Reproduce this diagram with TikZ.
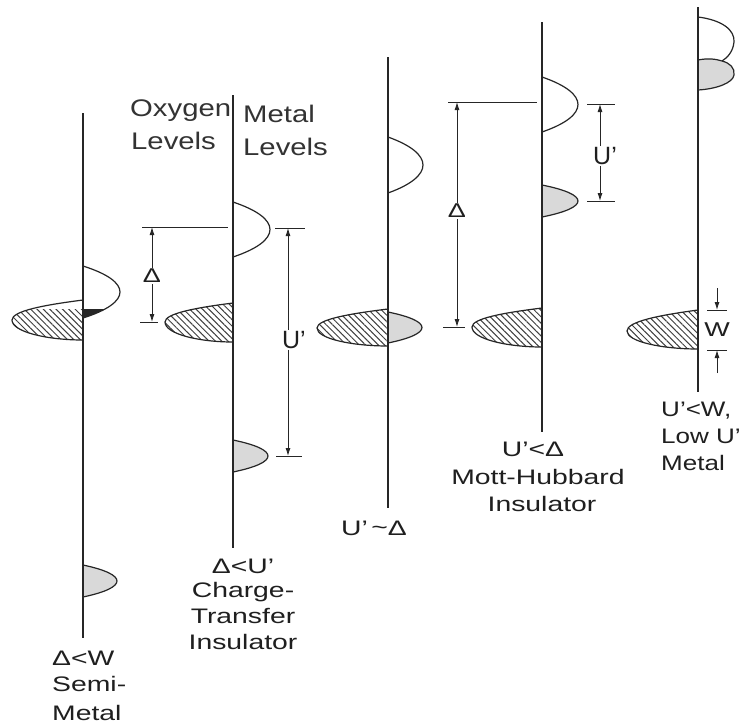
\documentclass[tikz,border=0pt]{standalone}
\usepackage{fontspec}
\setmainfont{Liberation Sans}
\newfontfamily\hdfont{Liberation Sans}[FakeStretch=1.22]
\newfontfamily\lbfont{Liberation Sans}[FakeStretch=1.35]
\newfontfamily\lbfontn{Liberation Sans}[FakeStretch=1.24]
\usetikzlibrary{arrows.meta,patterns.meta}
% right bump: x0, ytop, ybot, xpeak
\newcommand{\rbump}[4]{(#1,#2) .. controls ({#1+1.333*(#4-#1)},{#2+0.3*(#3-#2)}) and ({#1+1.333*(#4-#1)},{#3-0.3*(#3-#2)}) .. (#1,#3)}
% left band: x0, ytop, ybot, xtip, ytip
\newcommand{\lband}[5]{(#1,#2) .. controls ({#1-0.55*(#1-#4)},{#2+0.25*(#5-#2)}) and ({#4},{#5-0.45*(#5-#2)}) .. (#4,#5) .. controls ({#4},{#5+0.6*(#3-#5)}) and ({#1-0.5*(#1-#4)},{#3}) .. (#1,#3) -- cycle}
\begin{document}
\begin{tikzpicture}[x=1pt,y=-1pt,
  axis/.style={line width=1.1pt,draw=black!85},
  band/.style={line width=1.2pt,draw=black!85},
  dotband/.style={band,fill=black!15},
  hatchfill/.style={pattern={Lines[angle=-45,distance=4.5pt,line width=1pt]},pattern color=black!75},
  tickline/.style={line width=0.9pt,draw=black!85},
  dimarr/.style={line width=0.9pt,draw=black!85,-{Latex[length=8pt,width=5pt]}},
  lab/.style={inner sep=0pt,text=black!88,font=\lbfont\fontsize{21}{25}\selectfont},
  labn/.style={inner sep=0pt,text=black!88,font=\lbfontn\fontsize{21}{25}\selectfont},
  hdr/.style={inner sep=0pt,text=black!80,font=\hdfont\fontsize{24}{30}\selectfont},
  dimlab/.style={inner sep=1pt,text=black!88,font=\lbfont\fontsize{20}{24}\selectfont},
  dimlabU/.style={inner sep=1pt,text=black!88,font=\fontsize{25}{30}\selectfont}]
\useasboundingbox (0,0) rectangle (744,724);
\fill[white] (0,0) rectangle (744,724);

% ---------------- column 1 : semi-metal
\coordinate (a1t) at (83,113); \coordinate (a1b) at (83,638);
\begin{scope}
  \clip (0,309) rectangle (83,360);
  \fill[hatchfill] \lband{83}{300}{340}{12}{320};
\end{scope}
\begin{scope}
  \clip (83,309) rectangle (140,330);
  \fill[black!85] \rbump{83}{266}{318}{120};
\end{scope}
\draw[band] \lband{83}{300}{340}{12}{320};
\draw[band] \rbump{83}{266}{318}{120};
\draw[dotband] \rbump{83}{565}{597}{117};
\draw[axis] (a1t) -- (a1b);
\node[lab,anchor=base west] (t1a) at (52,665) {Δ<W};
\node[lab,anchor=base west] (t1b) at (52,691) {Semi-};
\node[lab,anchor=base west] (t1c) at (52,720) {Metal};

% ---------------- column 2 : charge-transfer insulator
\coordinate (a2t) at (233,95); \coordinate (a2b) at (233,548);
\fill[hatchfill] \lband{233}{303}{342}{165}{322};
\draw[band] \lband{233}{303}{342}{165}{322};
\draw[band] \rbump{233}{202}{257}{270};
\draw[dotband] \rbump{233}{440}{472}{268};
\draw[axis] (a2t) -- (a2b);
\node[hdr,anchor=base west] (h1) at (130,116) {Oxygen};
\node[hdr,anchor=base west] (h2) at (131,149) {Levels};
\node[hdr,anchor=base west] (h3) at (243,122) {Metal};
\node[hdr,anchor=base west] (h4) at (243,155) {Levels};
% Delta
\coordinate (d2a) at (142,227); \coordinate (d2b) at (228,227);
\coordinate (d2c) at (140,322); \coordinate (d2d) at (158,322);
\draw[tickline] (d2a) -- (d2b);
\draw[tickline] (d2c) -- (d2d);
\node[dimlab] (d2) at (152,276) {Δ};
\coordinate (d2top) at (152,227); \coordinate (d2bot) at (152,322);
\draw[dimarr] (d2) -- (d2top);
\draw[dimarr] (d2) -- (d2bot);
% U'
\coordinate (u2a) at (275,228); \coordinate (u2b) at (305,228);
\coordinate (u2c) at (276,456); \coordinate (u2d) at (302,456);
\draw[tickline] (u2a) -- (u2b);
\draw[tickline] (u2c) -- (u2d);
\node[dimlabU] (u2) at (294,340) {U’};
\coordinate (u2top) at (288,228); \coordinate (u2bot) at (288,456);
\draw[dimarr] (u2.north -| u2top) -- (u2top);
\draw[dimarr] (u2.south -| u2bot) -- (u2bot);
\node[lab,anchor=base] (t2a) at (243,573) {Δ<U’};
\node[lab,anchor=base] (t2b) at (243,597) {Charge-};
\node[lab,anchor=base] (t2c) at (243,623) {Transfer};
\node[lab,anchor=base] (t2d) at (243,649) {Insulator};

% ---------------- column 3 : U' ~ Delta
\coordinate (a3t) at (388,57); \coordinate (a3b) at (388,508);
\fill[hatchfill] \lband{388}{309}{346}{317}{328};
\draw[band] \lband{388}{309}{346}{317}{328};
\draw[band] \rbump{388}{137}{193}{423};
\draw[dotband] \rbump{388}{312}{343}{422};
\draw[axis] (a3t) -- (a3b);
\node[lab,anchor=base] (t3a) at (374,535) {U’\,\raisebox{1pt}{\char"007E}Δ};

% ---------------- column 4 : Mott-Hubbard insulator
\coordinate (a4t) at (542,22); \coordinate (a4b) at (542,432);
\fill[hatchfill] \lband{542}{308}{347}{472}{327};
\draw[band] \lband{542}{308}{347}{472}{327};
\draw[band] \rbump{542}{77}{132}{578};
\draw[dotband] \rbump{542}{185}{217}{578};
\draw[axis] (a4t) -- (a4b);
% Delta
\coordinate (d4a) at (448,102); \coordinate (d4b) at (537,102);
\coordinate (d4c) at (443,327); \coordinate (d4d) at (465,327);
\draw[tickline] (d4a) -- (d4b);
\draw[tickline] (d4c) -- (d4d);
\node[dimlab] (d4) at (457,211) {Δ};
\coordinate (d4top) at (457,102); \coordinate (d4bot) at (457,327);
\draw[dimarr] (d4) -- (d4top);
\draw[dimarr] (d4) -- (d4bot);
% U'
\coordinate (u4a) at (587,104); \coordinate (u4b) at (615,104);
\coordinate (u4c) at (587,201); \coordinate (u4d) at (615,201);
\draw[tickline] (u4a) -- (u4b);
\draw[tickline] (u4c) -- (u4d);
\node[dimlabU] (u4) at (605,156) {U’};
\coordinate (u4top) at (600,104); \coordinate (u4bot) at (600,201);
\draw[dimarr] (u4.north -| u4top) -- (u4top);
\draw[dimarr] (u4.south -| u4bot) -- (u4bot);
\node[lab,anchor=base] (t4a) at (533,456) {U’<Δ};
\node[lab,anchor=base] (t4b) at (538,484) {Mott-Hubbard};
\node[lab,anchor=base] (t4c) at (542,511) {Insulator};

% ---------------- column 5 : low U' metal
\coordinate (a5t) at (698,7); \coordinate (a5b) at (698,392);
\fill[hatchfill] \lband{698}{310}{349}{627}{331};
\draw[band] \lband{698}{310}{349}{627}{331};
\draw[dotband] (698,60) .. controls (708,58) and (716,59) .. (722,61)
   .. controls (730,63) and (735,68) .. (734,75)
   .. controls (733,83) and (716,89) .. (698,90) -- cycle;
\draw[band] (698,17) .. controls (722,20) and (735,30) .. (734,42)
   .. controls (733,52) and (727,58) .. (722,61);
\draw[axis] (a5t) -- (a5b);
% W
\coordinate (w5a) at (707,310); \coordinate (w5b) at (727,310);
\coordinate (w5c) at (707,350); \coordinate (w5d) at (727,350);
\draw[tickline] (w5a) -- (w5b);
\draw[tickline] (w5c) -- (w5d);
\node[dimlab] (w5) at (717,330) {W};
\coordinate (w5s1) at (717,288); \coordinate (w5s2) at (717,373);
\coordinate (w5e1) at (717,310); \coordinate (w5e2) at (717,350);
\draw[dimarr] (w5s1) -- (w5e1);
\draw[dimarr] (w5s2) -- (w5e2);
\node[labn,anchor=base west] (t5a) at (661,416) {U’<W,};
\node[labn,anchor=base west] (t5b) at (661,443) {Low U’};
\node[labn,anchor=base west] (t5c) at (661,470) {Metal};
\end{tikzpicture}
\end{document}
